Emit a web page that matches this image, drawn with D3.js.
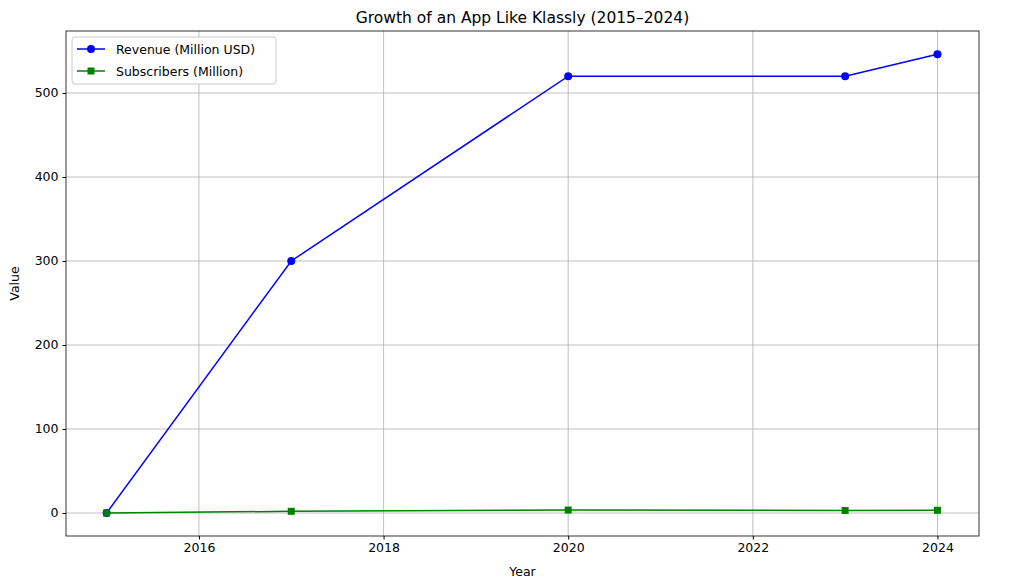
<!DOCTYPE html>
<html><head><meta charset="utf-8">
<script src="https://cdn.jsdelivr.net/npm/d3@7"></script>
<style>body{margin:0;background:#fff}text{font-family:"DejaVu Sans",sans-serif}</style>
</head><body><svg id="c" width="1011" height="586"></svg>
<script>
const years=[2015,2017,2020,2023,2024];
const revenue=[0,300,520,520,546];
const subscribers=[0,2,3.5,3,3.2];
const xTicks=[2016,2018,2020,2022,2024];
const yTicks=[0,100,200,300,400,500];
const svg=d3.select("#c");
const L=66,R=979,T=31,B=536;
const x=d3.scaleLinear().domain([2014.56,2024.45]).range([L,R]);
const y=d3.scaleLinear().domain([-27.4,573.8]).range([B,T]);
const g=svg.append("g");
xTicks.forEach(t=>g.append("line").attr("x1",x(t)).attr("x2",x(t)).attr("y1",T).attr("y2",B).attr("stroke","#b0b0b0").attr("stroke-width",0.8));
yTicks.forEach(t=>g.append("line").attr("x1",L).attr("x2",R).attr("y1",y(t)).attr("y2",y(t)).attr("stroke","#b0b0b0").attr("stroke-width",0.8));
const xa=svg.append("g").attr("transform",`translate(0,${B})`).call(d3.axisBottom(x).tickValues(xTicks).tickFormat(d3.format("d")).tickSize(3.5).tickPadding(4));
const ya=svg.append("g").attr("transform",`translate(${L},0)`).call(d3.axisLeft(y).tickValues(yTicks).tickSize(3.5).tickPadding(4));
[xa,ya].forEach(a=>{a.select(".domain").remove();a.selectAll("text").attr("font-size",12.5).attr("fill","#000").style("font-family","DejaVu Sans");a.selectAll("line").attr("stroke","#000");});
svg.append("rect").attr("x",L).attr("y",T).attr("width",R-L).attr("height",B-T).attr("fill","none").attr("stroke","#000").attr("stroke-width",0.8);
const line=d3.line().x((d,i)=>x(years[i])).y(d=>y(d));
svg.append("path").attr("d",line(revenue)).attr("fill","none").attr("stroke","blue").attr("stroke-width",1.5);
svg.selectAll(".rc").data(revenue).join("circle").attr("cx",(d,i)=>x(years[i])).attr("cy",d=>y(d)).attr("r",4).attr("fill","blue");
svg.append("path").attr("d",line(subscribers)).attr("fill","none").attr("stroke","green").attr("stroke-width",1.5);
svg.selectAll(".sq").data(subscribers).join("rect").attr("x",(d,i)=>x(years[i])-3.5).attr("y",d=>y(d)-3.5).attr("width",7).attr("height",7).attr("fill","green");
svg.append("text").attr("x",(L+R)/2).attr("y",23).attr("text-anchor","middle").attr("font-size",15.5).text("Growth of an App Like Klassly (2015–2024)");
svg.append("text").attr("x",(L+R)/2).attr("y",576).attr("text-anchor","middle").attr("font-size",12.5).text("Year");
svg.append("text").attr("transform",`translate(19,${(T+B)/2}) rotate(-90)`).attr("text-anchor","middle").attr("font-size",12.5).text("Value");
const lg=svg.append("g");
lg.append("rect").attr("x",72).attr("y",37).attr("width",204).attr("height",47).attr("rx",3).attr("fill","#fff").attr("stroke","#ccc");
[["Revenue (Million USD)","blue","c"],["Subscribers (Million)","green","s"]].forEach((e,i)=>{
 const yy=49+i*22;
 lg.append("line").attr("x1",77).attr("x2",105).attr("y1",yy).attr("y2",yy).attr("stroke",e[1]).attr("stroke-width",1.5);
 if(e[2]=="c")lg.append("circle").attr("cx",91).attr("cy",yy).attr("r",4).attr("fill",e[1]);
 else lg.append("rect").attr("x",87.5).attr("y",yy-3.5).attr("width",7).attr("height",7).attr("fill",e[1]);
 lg.append("text").attr("x",116).attr("y",yy+4.5).attr("font-size",12.5).text(e[0]);
});
</script></body></html>
